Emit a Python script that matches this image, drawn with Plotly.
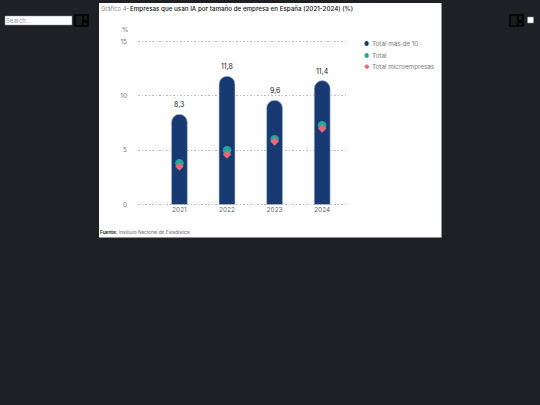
import plotly.graph_objects as go

years = ["2021", "2022", "2023", "2024"]
total_10 = [8.3, 11.8, 9.6, 11.4]
total = [3.8, 5.0, 6.0, 7.3]
micro = [3.5, 4.6, 5.8, 7.0]
bar_labels = ["8,3", "11,8", "9,6", "11,4"]
y_ticks = [0, 5, 10, 15]
series_names = ["Total más de 10", "Total", "Total microempresas"]

W, H = 540, 405
BG = "#1f2023"
NAVY = "#183a72"
TEAL = "#1fa9a0"
PINK = "#e8667a"
FONT = "Inter"

def px(x): return x / W
def py(y): return 1 - y / H

fig = go.Figure()
fig.add_bar(x=years, y=total_10, width=0.335, name=series_names[0], hoverinfo="skip",
            marker=dict(color=NAVY, cornerradius=8, line=dict(color="#b9c6dc", width=0.6)))
fig.add_scatter(x=years, y=total, mode="markers", name=series_names[1],
                marker=dict(color=TEAL, size=8.5, symbol="circle"))
fig.add_scatter(x=years, y=micro, mode="markers", name=series_names[2],
                marker=dict(color=PINK, size=6.5, symbol="diamond"))

shapes = [
    dict(type="rect", xref="paper", yref="paper", x0=px(99), x1=px(441.5), y0=py(237.5), y1=py(3),
         fillcolor="white", line_width=0, layer="below"),
    dict(type="rect", xref="paper", yref="paper", x0=px(5), x1=px(72), y0=py(25), y1=py(16),
         fillcolor="white", line=dict(color="#888888", width=0.5), layer="below"),
    dict(type="rect", xref="paper", yref="paper", x0=px(527.5), x1=px(533.5), y0=py(23), y1=py(17),
         fillcolor="white", line=dict(color="#888888", width=0.5), layer="below"),
]
for x0 in (75, 510):
    shapes += [
        dict(type="rect", xref="paper", yref="paper", x0=px(x0), x1=px(x0 + 13), y0=py(26), y1=py(15),
             fillcolor="#1a1b1d", line=dict(color="#000000", width=1.5), layer="below"),
        dict(type="line", xref="paper", yref="paper", x0=px(x0 + 8), x1=px(x0 + 8), y0=py(26), y1=py(15),
             line=dict(color="#000000", width=1.5), layer="below"),
        dict(type="rect", xref="paper", yref="paper", x0=px(x0 + 9), x1=px(x0 + 12), y0=py(23), y1=py(20),
             fillcolor="#000000", line_width=0, layer="below"),
    ]

def note(x, y, text, size=6.5, color="#666666", weight=400):
    return dict(xref="paper", yref="paper", x=px(x), y=py(y), text=text, showarrow=False,
                xanchor="left", yanchor="middle", borderpad=0, borderwidth=0,
                font=dict(family=FONT, size=size, color=color, weight=weight))

annotations = [
    note(100.5, 8.5, "Gráfico 4", 5.8, "#888888"),
    note(125.5, 8.5, "-", 7, "#888888"),
    note(129.5, 8.5, "Empresas que usan IA por tamaño de empresa en España (2021-2024) (%)", 6.25, "#111111", 500),
    note(100, 231.5, "Fuente:", 4.8, "#222222", 600),
    note(119, 231.5, "Instituto Nacional de Estadística", 4.7, "#666666"),
    note(122, 30.5, "%", 6.5, "#777777"),
    note(6, 20.5, "Search...", 6, "#999999"),
]
for name, col, sym, y in zip(series_names, [NAVY, TEAL, PINK], ["●", "●", "◆"], [44.3, 55.8, 67.3]):
    annotations.append(note(363.8, y, sym, 5.5, col))
    annotations.append(note(372, y, name, 6.3, "#777777"))
for i, (v, lab) in enumerate(zip(total_10, bar_labels)):
    annotations.append(dict(x=i, y=v, xref="x", yref="y", text=lab, showarrow=False,
                            yanchor="bottom", yshift=4, borderpad=0,
                            font=dict(family=FONT, size=7, color="#222222")))

fig.update_layout(
    width=W, height=H, margin=dict(l=0, r=0, t=0, b=0),
    paper_bgcolor=BG, plot_bgcolor="rgba(0,0,0,0)",
    shapes=shapes, annotations=annotations, barmode="overlay", showlegend=False,
    font=dict(family=FONT),
    xaxis=dict(domain=[px(138), px(346)], range=[-0.87, 3.5], type="category", automargin=False,
               showgrid=False, zeroline=False, showline=False, ticks="", ticklabelstandoff=-3,
               tickfont=dict(family=FONT, size=6.5, color="#666666")),
    yaxis=dict(domain=[py(207.76), py(38.24)], range=[-0.3, 15.3], tickvals=y_ticks, automargin=False,
               showgrid=True, gridcolor="#bbbbbb", griddash="1.5px,2px", gridwidth=1,
               zeroline=False, showline=False, ticks="", layer="below traces", ticklabelstandoff=10,
               tickfont=dict(family=FONT, size=6.5, color="#777777")),
)

fig.write_html("out.html", config=dict(displayModeBar=False),
               post_script=f"document.body.style.margin='0';document.body.style.background='{BG}';")
